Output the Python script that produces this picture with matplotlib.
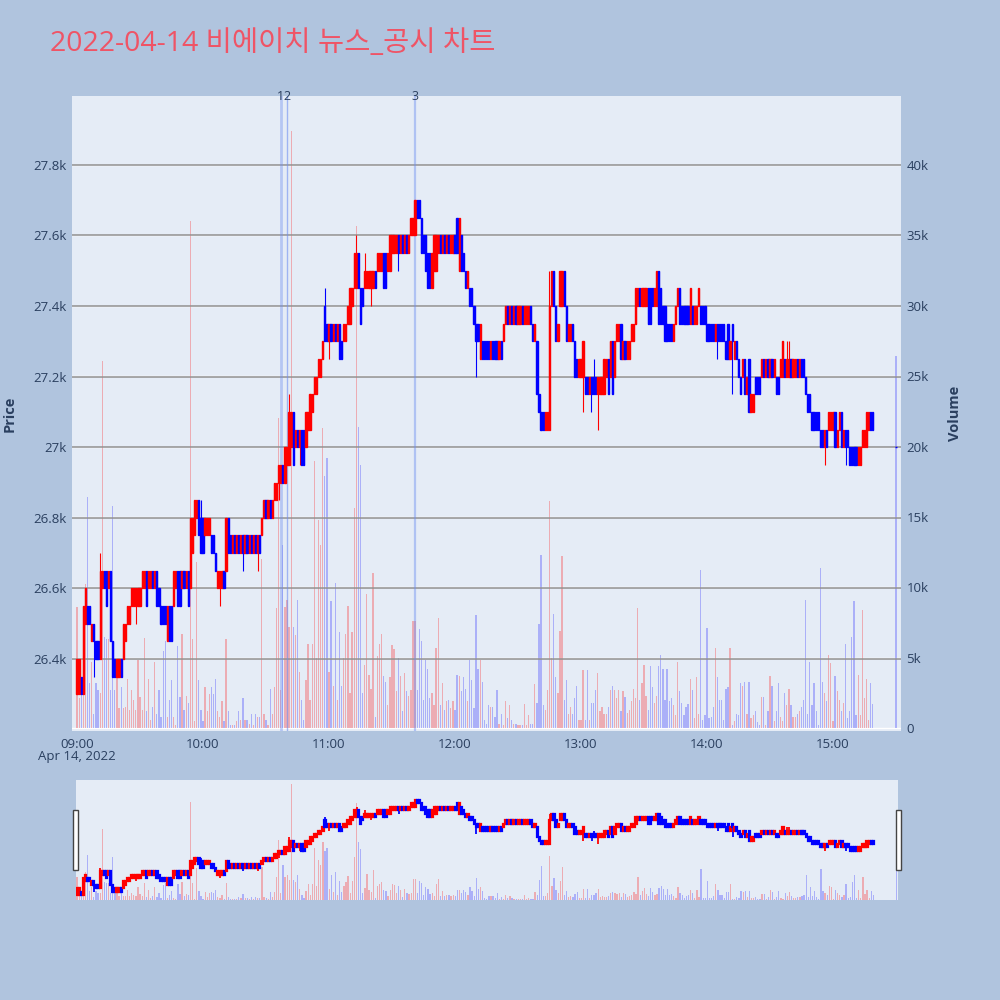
import matplotlib
matplotlib.use("Agg")
import matplotlib.pyplot as plt
import matplotlib.transforms as mtransforms
from matplotlib.patches import Rectangle
import pandas as pd

plt.rcParams['font.family'] = ['Open Sans', 'Noto Sans CJK KR', 'DejaVu Sans']

# ---------------- data (1-minute candles, 2022-04-14) ----------------
session_start = "2022-04-14 09:00"
closing_auction_time = "2022-04-14 15:30"

opens = [
    26300, 26300, 26350, 26300, 26500, 26550, 26550, 26450, 26500, 26450,
    26450, 26400, 26600, 26650, 26650, 26600, 26650, 26450, 26400, 26350,
    26350, 26400, 26400, 26450, 26500, 26500, 26550, 26550, 26550, 26550,
    26550, 26600, 26600, 26650, 26600, 26600, 26650, 26600, 26650, 26600,
    26550, 26550, 26550, 26450, 26550, 26550, 26550, 26600, 26650, 26650,
    26600, 26650, 26600, 26650, 26600, 26700, 26750, 26800, 26850, 26800,
    26800, 26750, 26750, 26750, 26750, 26750, 26700, 26600, 26600, 26600,
    26650, 26650, 26800, 26750, 26700, 26750, 26700, 26750, 26700, 26750,
    26700, 26750, 26700, 26750, 26700, 26750, 26700, 26750, 26750, 26800,
    26850, 26800, 26850, 26800, 26850, 26850, 26900, 26900, 26950, 26900,
    26950, 26950, 27000, 27100, 27000, 27050, 27000, 27050, 27050, 27000,
    27050, 27050, 27100, 27150, 27150, 27200, 27200, 27250, 27400, 27350,
    27300, 27350, 27300, 27350, 27300, 27350, 27300, 27300, 27300, 27350,
    27350, 27400, 27450, 27450, 27550, 27450, 27450, 27450, 27450, 27450,
    27450, 27450, 27500, 27500, 27500, 27500, 27550, 27550, 27500, 27500,
    27550, 27550, 27550, 27600, 27550, 27600, 27550, 27600, 27550, 27600,
    27600, 27600, 27700, 27700, 27650, 27600, 27600, 27550, 27550, 27450,
    27500, 27500, 27550, 27600, 27550, 27600, 27550, 27600, 27550, 27550,
    27600, 27650, 27500, 27600, 27550, 27500, 27450, 27450, 27450, 27400,
    27350, 27350, 27250, 27300, 27300, 27300, 27300, 27250, 27300, 27300,
    27300, 27250, 27300, 27300, 27350, 27400, 27350, 27400, 27350, 27400,
    27350, 27350, 27400, 27350, 27350, 27350, 27400, 27350, 27300, 27300,
    27150, 27100, 27100, 27050, 27050, 27050, 27400, 27500, 27400, 27300,
    27400, 27400, 27500, 27400, 27300, 27300, 27350, 27300, 27250, 27200,
    27200, 27200, 27200, 27200, 27150, 27200, 27200, 27200, 27150, 27150,
    27150, 27150, 27200, 27250, 27200, 27300, 27200, 27300, 27300, 27350,
    27250, 27300, 27250, 27250, 27300, 27300, 27350, 27400, 27450, 27400,
    27400, 27400, 27450, 27450, 27450, 27400, 27400, 27500, 27450, 27400,
    27400, 27350, 27350, 27350, 27300, 27350, 27400, 27450, 27400, 27400,
    27400, 27400, 27350, 27400, 27350, 27350, 27400, 27400, 27400, 27400,
    27350, 27350, 27350, 27350, 27300, 27350, 27350, 27350, 27350, 27300,
    27350, 27250, 27350, 27250, 27300, 27250, 27200, 27200, 27250, 27150,
    27250, 27100, 27100, 27200, 27200, 27200, 27200, 27250, 27200, 27250,
    27200, 27250, 27200, 27200, 27200, 27200, 27200, 27250, 27200, 27200,
    27250, 27200, 27200, 27250, 27200, 27250, 27250, 27200, 27150, 27150,
    27100, 27100, 27100, 27100, 27050, 27050, 27000, 27050, 27050, 27050,
    27050, 27100, 27000, 27050, 27100, 27000, 27050, 27050, 27000, 27000,
    27000, 27000, 26950, 26950, 27000, 27000, 27000, 27050, 27100, 27100,
]

closes = [
    26400, 26400, 26300, 26550, 26600, 26500, 26500, 26500, 26450, 26400,
    26400, 26650, 26650, 26600, 26550, 26650, 26450, 26350, 26350, 26400,
    26400, 26350, 26500, 26500, 26550, 26550, 26600, 26600, 26600, 26600,
    26600, 26650, 26650, 26550, 26650, 26650, 26600, 26650, 26550, 26550,
    26500, 26500, 26500, 26550, 26450, 26450, 26650, 26650, 26550, 26550,
    26650, 26600, 26650, 26550, 26800, 26800, 26850, 26850, 26750, 26700,
    26700, 26800, 26800, 26800, 26700, 26700, 26650, 26650, 26650, 26650,
    26600, 26800, 26700, 26700, 26750, 26700, 26750, 26700, 26750, 26700,
    26750, 26700, 26750, 26700, 26750, 26700, 26750, 26700, 26800, 26850,
    26800, 26850, 26800, 26850, 26900, 26900, 26950, 26950, 26900, 27000,
    27000, 27100, 27100, 26950, 27050, 27000, 27050, 26950, 26950, 27100,
    27100, 27150, 27150, 27200, 27200, 27250, 27250, 27300, 27300, 27300,
    27350, 27300, 27350, 27300, 27350, 27250, 27250, 27350, 27350, 27400,
    27450, 27450, 27550, 27550, 27450, 27350, 27400, 27500, 27500, 27500,
    27500, 27500, 27450, 27550, 27550, 27550, 27450, 27450, 27550, 27600,
    27600, 27600, 27600, 27550, 27600, 27550, 27600, 27550, 27600, 27650,
    27650, 27700, 27650, 27650, 27550, 27550, 27500, 27450, 27450, 27550,
    27600, 27600, 27600, 27550, 27600, 27550, 27600, 27550, 27600, 27600,
    27550, 27550, 27650, 27500, 27500, 27450, 27500, 27400, 27400, 27350,
    27300, 27300, 27350, 27250, 27250, 27250, 27250, 27300, 27250, 27250,
    27250, 27300, 27250, 27350, 27400, 27350, 27400, 27350, 27400, 27350,
    27400, 27400, 27350, 27400, 27400, 27400, 27350, 27300, 27350, 27150,
    27100, 27050, 27050, 27100, 27100, 27400, 27500, 27400, 27300, 27350,
    27500, 27500, 27400, 27300, 27350, 27350, 27300, 27200, 27200, 27250,
    27250, 27300, 27150, 27150, 27200, 27150, 27150, 27150, 27200, 27200,
    27200, 27250, 27250, 27150, 27300, 27150, 27300, 27350, 27350, 27250,
    27300, 27250, 27300, 27300, 27350, 27350, 27450, 27450, 27400, 27450,
    27450, 27450, 27350, 27350, 27400, 27450, 27500, 27350, 27350, 27350,
    27300, 27300, 27300, 27300, 27350, 27400, 27450, 27350, 27350, 27350,
    27350, 27350, 27450, 27350, 27400, 27400, 27450, 27350, 27350, 27350,
    27300, 27300, 27300, 27300, 27350, 27300, 27300, 27300, 27300, 27250,
    27250, 27300, 27300, 27300, 27250, 27200, 27150, 27250, 27150, 27200,
    27100, 27150, 27150, 27150, 27150, 27150, 27250, 27200, 27250, 27200,
    27250, 27200, 27250, 27150, 27150, 27250, 27300, 27200, 27250, 27250,
    27200, 27250, 27250, 27200, 27250, 27200, 27200, 27150, 27100, 27100,
    27050, 27050, 27050, 27050, 27000, 27000, 27050, 27000, 27100, 27100,
    27100, 27000, 27050, 27100, 27000, 27050, 27000, 27000, 26950, 26950,
    26950, 26950, 27000, 27000, 27050, 27050, 27100, 27100, 27050, 27050,
]

# extra wick extremes (minute index -> price)
wick_highs = {11: 26700, 59: 26850, 101: 27150, 118: 27450, 133: 27600,
              137: 27550, 181: 27650, 225: 27500, 246: 27250, 338: 27300,
              339: 27300}
wick_lows = {8: 26350, 28: 26500, 68: 26550, 79: 26650, 86: 26650,
             96: 26850, 106: 26950, 120: 27250, 140: 27400, 153: 27500,
             190: 27200, 241: 27100, 245: 27100, 248: 27050, 305: 27250,
             312: 27150, 356: 26950, 366: 26950}

volumes_k = [
    8.6, 2.1, 2.5, 2.5, 10.2, 16.4, 3.2, 4.7, 1.0, 3.2,
    2.7, 2.5, 26.1, 6.5, 6.3, 6.3, 2.7, 15.8, 2.7, 4.8,
    1.4, 2.9, 1.4, 1.5, 3.5, 1.3, 2.7, 2.0, 1.3, 4.8,
    2.2, 1.3, 6.4, 1.2, 3.5, 0.6, 1.5, 4.7, 1.0, 2.7,
    0.8, 5.5, 6.2, 0.8, 2.0, 3.4, 0.8, 0.2, 5.8, 2.2,
    6.7, 1.3, 2.3, 1.8, 36.0, 6.3, 0.5, 11.8, 3.4, 1.3,
    0.5, 2.9, 1.2, 2.4, 2.9, 2.4, 3.5, 1.2, 0.8, 1.9,
    0.5, 6.3, 1.2, 0.2, 0.2, 0.2, 0.5, 1.2, 0.6, 2.1,
    0.6, 0.6, 0.3, 1.0, 0.2, 1.0, 0.8, 0.8, 12.0, 1.0,
    0.6, 0.2, 2.8, 1.0, 2.9, 8.5, 22.0, 2.7, 13.0, 8.6,
    9.1, 7.2, 42.4, 7.2, 6.6, 9.1, 4.0, 2.0, 0.6, 3.4,
    6.0, 2.0, 6.0, 19.0, 5.0, 14.8, 13.0, 21.3, 17.9, 19.2,
    4.0, 9.0, 3.0, 10.3, 2.0, 6.8, 3.0, 5.0, 6.7, 8.7,
    2.5, 6.8, 15.6, 35.7, 21.4, 18.7, 2.5, 4.5, 9.5, 3.8,
    2.8, 11.0, 0.8, 5.1, 6.0, 6.7, 3.7, 3.3, 1.6, 3.6,
    5.9, 5.6, 2.6, 5.0, 3.7, 1.2, 3.9, 2.6, 2.3, 2.7,
    7.6, 7.6, 2.7, 7.0, 6.2, 2.0, 4.8, 4.2, 2.1, 2.5,
    1.6, 5.7, 7.8, 1.6, 3.2, 1.3, 1.9, 2.0, 1.4, 1.9,
    1.3, 3.8, 3.7, 2.6, 3.6, 2.8, 1.9, 4.8, 3.4, 1.4,
    8.0, 4.2, 4.8, 3.3, 0.6, 0.3, 1.6, 1.5, 1.5, 0.8,
    2.7, 0.3, 1.0, 0.2, 1.9, 0.7, 1.6, 0.6, 0.3, 0.3,
    0.2, 0.2, 0.2, 1.7, 0.2, 0.9, 0.3, 0.3, 3.1, 1.8,
    7.4, 12.3, 1.6, 1.3, 2.7, 16.1, 5.0, 8.1, 3.6, 2.5,
    6.9, 12.2, 2.0, 3.4, 1.0, 1.5, 1.0, 2.1, 3.0, 0.6,
    0.6, 4.1, 0.6, 4.1, 0.6, 1.8, 1.8, 2.7, 3.9, 1.2,
    1.5, 1.0, 1.0, 1.5, 2.7, 3.0, 2.7, 2.1, 2.7, 1.2,
    2.6, 2.2, 1.1, 1.3, 1.9, 2.8, 2.1, 8.5, 2.0, 3.2,
    4.5, 2.3, 1.3, 4.4, 2.9, 1.8, 2.3, 4.4, 5.2, 4.2,
    2.0, 4.2, 1.9, 2.1, 1.6, 0.9, 4.7, 2.6, 1.8, 0.9,
    1.5, 1.7, 3.5, 2.7, 0.7, 3.6, 1.0, 11.2, 0.6, 0.9,
    7.1, 0.7, 0.8, 1.5, 5.7, 3.6, 2.0, 2.0, 0.6, 2.8,
    2.9, 5.7, 0.2, 0.5, 1.0, 0.9, 3.2, 3.0, 3.3, 1.0,
    3.3, 0.7, 0.9, 1.2, 0.4, 0.2, 2.2, 2.2, 0.2, 1.2,
    3.7, 3.0, 0.5, 1.2, 3.2, 0.8, 0.5, 2.5, 1.6, 2.8,
    1.6, 0.8, 0.8, 1.0, 1.2, 1.5, 2.0, 9.1, 1.0, 4.7,
    1.6, 3.2, 1.2, 0.2, 11.4, 3.3, 2.5, 1.9, 5.2, 4.6,
    0.5, 3.7, 2.6, 2.0, 1.2, 1.8, 6.0, 0.7, 1.2, 6.5,
    9.0, 0.9, 3.8, 0.9, 8.4, 2.1, 3.5, 0.6, 3.2, 1.7,
]

# closing auction candle (15:30)
auction_open = 27000
auction_close = 27000
auction_volume_k = 26.4

# news / disclosure markers
news_times = ["2022-04-14 10:37", "2022-04-14 10:40", "2022-04-14 11:41"]
news_labels = ["1", "2", "3"]

price_ticks = [26400, 26600, 26800, 27000, 27200, 27400, 27600, 27800]
price_tick_labels = ["26.4k", "26.6k", "26.8k", "27k", "27.2k", "27.4k", "27.6k", "27.8k"]
volume_ticks = [0, 5000, 10000, 15000, 20000, 25000, 30000, 35000, 40000]
volume_tick_labels = ["0", "5k", "10k", "15k", "20k", "25k", "30k", "35k", "40k"]
time_ticks = ["09:00", "10:00", "11:00", "12:00", "13:00", "14:00", "15:00"]

title = "2022-04-14 비에이치 뉴스_공시 차트"

# ---------------- assemble ----------------
t0 = pd.Timestamp(session_start)
times = list(pd.date_range(session_start, periods=len(closes), freq="min")) + [pd.Timestamp(closing_auction_time)]
xs = [(t - t0).total_seconds() / 60.0 for t in times]
O = opens + [auction_open]
C = closes + [auction_close]
V = [v * 1000 for v in volumes_k] + [auction_volume_k * 1000]
H = [max(o, c, wick_highs.get(i, 0)) for i, (o, c) in enumerate(zip(O, C))]
L = [min(o, c, wick_lows.get(i, 10 ** 9)) for i, (o, c) in enumerate(zip(O, C))]
up = [c > o for o, c in zip(O, C)]
ccol = ['#ff0000' if u else '#0000ff' for u in up]
vcol = [(1, 0, 0, 0.27) if u else (0, 0, 1, 0.25) for u in up]

PLOT_BG = '#E5ECF6'
FIG_BG = '#B0C4DE'
TXT = '#2a3f5f'
PRICE_LIM = (26196, 27995)
VOL_LIM = (-213, 44903)

fig = plt.figure(figsize=(10, 10), dpi=100, facecolor=FIG_BG)


def draw_candles(ax, body_w, lw):
    ax.vlines(xs, L, H, colors=ccol, linewidth=lw * 0.8, zorder=3)
    bottoms = [min(o, c) for o, c in zip(O, C)]
    heights = [abs(c - o) for o, c in zip(O, C)]
    ax.bar(xs, heights, bottom=bottoms, width=body_w, color=ccol,
           edgecolor=ccol, linewidth=lw, zorder=4)


# ---------------- main chart ----------------
axv = fig.add_axes([0.072, 0.269, 0.829, 0.635])
ax = axv.twinx()
ax.yaxis.tick_left()
ax.yaxis.set_label_position('left')
axv.yaxis.tick_right()
axv.yaxis.set_label_position('right')
ax.set_zorder(axv.get_zorder() + 1)
ax.patch.set_visible(False)
axv.set_facecolor(PLOT_BG)

axv.bar(xs, V, width=0.6, color=vcol, linewidth=0, zorder=2)
axv.set_ylim(*VOL_LIM)
axv.set_yticks(volume_ticks)
axv.set_yticklabels(volume_tick_labels)
axv.grid(axis='y', color='white', linewidth=1.0, zorder=0)
axv.set_axisbelow(True)

draw_candles(ax, 0.6, 1.0)
ax.set_ylim(*PRICE_LIM)
ax.set_yticks(price_ticks)
ax.set_yticklabels(price_tick_labels)
ax.grid(axis='y', color='#8f8f8f', linewidth=1.1, zorder=0)
ax.set_axisbelow(True)

for a in (ax, axv):
    a.set_xlim(-2.4, 392.4)
    for s in a.spines.values():
        s.set_visible(False)
    a.tick_params(length=0, labelsize=9.5, labelcolor=TXT, pad=4)

tick_pos = [(pd.Timestamp("2022-04-14 " + t) - t0).total_seconds() / 60.0 for t in time_ticks]
axv.set_xticks(tick_pos)
axv.set_xticklabels(time_ticks)
axv.tick_params(axis='x', pad=5)
axv.text(0, -0.040, "Apr 14, 2022", transform=mtransforms.blended_transform_factory(axv.transData, axv.transAxes),
         ha='center', va='center', fontsize=9.5, color=TXT)

ax.set_ylabel("Price", fontsize=10.5, color=TXT, fontweight='bold', labelpad=12)
axv.set_ylabel("Volume", fontsize=10.5, color=TXT, fontweight='bold', labelpad=14)

trans = mtransforms.blended_transform_factory(ax.transData, ax.transAxes)
news_widths = [2.0, 1.0, 1.6]
news_alphas = [0.4, 0.6, 0.45]
for t, lab, w, al in zip(news_times, news_labels, news_widths, news_alphas):
    xm = (pd.Timestamp(t) - t0).total_seconds() / 60.0
    ax.axvline(xm, color='#6f8ff0', linewidth=w, alpha=al, zorder=2)
    ax.text(xm, 1.0, lab, transform=trans, ha='center', va='center',
            fontsize=9, color=TXT)

fig.text(0.05, 0.956, title, fontsize=20.5, color='#ef5466', ha='left', va='center')

# ---------------- range slider ----------------
rv = fig.add_axes([0.076, 0.100, 0.822, 0.120])
rp = rv.twinx()
rp.set_zorder(rv.get_zorder() + 1)
rp.patch.set_visible(False)
rv.set_facecolor(PLOT_BG)
rv.bar(xs, V, width=0.6, color=vcol, linewidth=0)
rv.set_ylim(0, 44000)
draw_candles(rp, 0.6, 1.6)
rp.set_ylim(26226, 27995)
for a in (rv, rp):
    a.set_xlim(-0.5, 390.7)
    a.set_xticks([])
    a.set_yticks([])
    for s in a.spines.values():
        s.set_visible(False)

for x0 in (0.0733, 0.8960):
    fig.patches.append(Rectangle((x0, 0.130), 0.0045, 0.060, transform=fig.transFigure,
                                 facecolor='white', edgecolor='#444444', linewidth=1.0, zorder=10))

fig.savefig("out.png", dpi=100, facecolor=FIG_BG)
